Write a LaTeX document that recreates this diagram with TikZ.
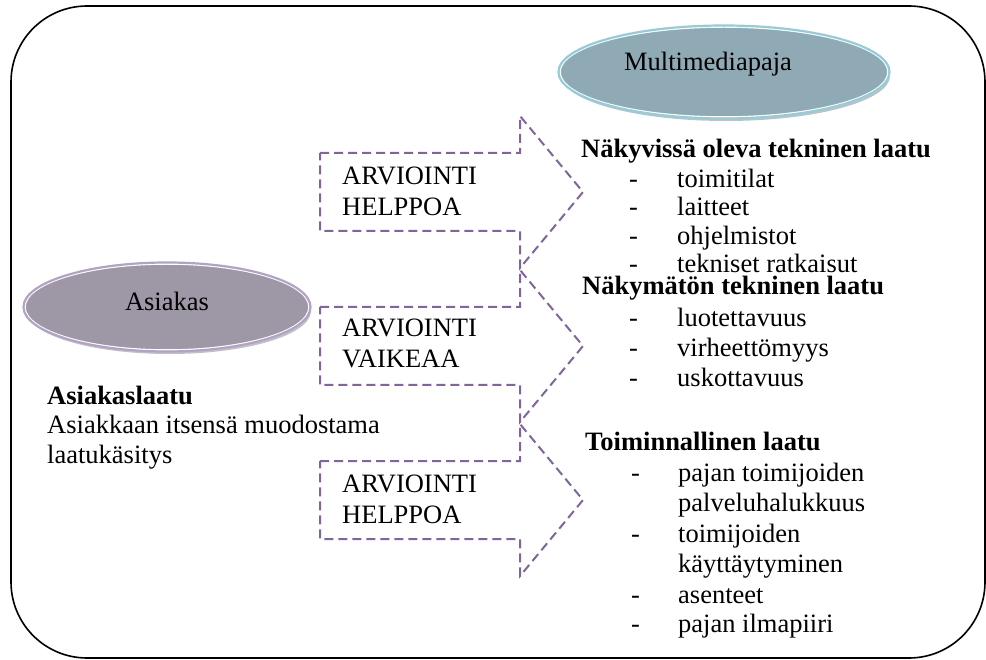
\documentclass[tikz,border=0pt]{standalone}
\usepackage{fontspec}
\setmainfont{Liberation Serif}
\usetikzlibrary{shapes.geometric}
\definecolor{frameblack}{HTML}{000000}
\definecolor{arrowpurple}{HTML}{8064A2}
\definecolor{mmfill}{HTML}{8FAAB4}
\definecolor{mmline}{HTML}{92CDDC}
\definecolor{asfill}{HTML}{9E97A6}
\definecolor{asline}{HTML}{B3A2C7}
\definecolor{shadowgray}{HTML}{A6A6A6}
\tikzset{
  frame/.style={draw=frameblack, line width=1.6pt, rounded corners=76pt},
  dasharrow/.style={draw=arrowpurple, line width=2pt, dash pattern=on 9pt off 5pt, line join=miter},
  txt/.style={anchor=base west, inner sep=0pt, font=\fontsize{26.5}{30}\selectfont},
  btxt/.style={txt, font=\fontsize{26.5}{30}\selectfont\bfseries},
  ctxt/.style={anchor=base, inner sep=0pt, font=\fontsize{26.5}{30}\selectfont},
  ell/.style={ellipse, inner sep=0pt},
}
\begin{document}
\begin{tikzpicture}[x=1pt,y=-1pt]
\useasboundingbox (0,0) rectangle (986,660);
% outer frame
\draw[frame] (11,6) rectangle (985,658);

% Multimediapaja ellipse
\fill[shadowgray!70] (726,76) ellipse [x radius=164, y radius=45];
\node[ell, minimum width=328pt, minimum height=90pt, fill=mmfill, draw=white, line width=1.5pt] (mm) at (724,72) {};
\draw[mmline, line width=2.2pt] (724,72) ellipse [x radius=165.5, y radius=46.5];
\node[ctxt] (mmtext) at (708,71) {Multimediapaja};

% Asiakas ellipse
\fill[shadowgray!70] (169,311) ellipse [x radius=142, y radius=43];
\node[ell, minimum width=284pt, minimum height=86pt, fill=asfill, draw=white, line width=1.5pt] (as) at (167,307) {};
\draw[asline, line width=2.2pt] (167,307) ellipse [x radius=143.5, y radius=44.5];
\node[ctxt] (astext) at (167,311) {Asiakas};

% dashed arrows
\foreach \c in {192, 346, 500}{
  \draw[dasharrow] (320,\c-39) -- (520,\c-39) -- (520,\c-76) -- (583,\c) -- (520,\c+76) -- (520,\c+39) -- (320,\c+39) -- cycle;
}
\node[txt] (a1l1) at (342,185) {ARVIOINTI};
\node[txt] (a1l2) at (342,216) {HELPPOA};
\node[txt] (a2l1) at (342,337) {ARVIOINTI};
\node[txt] (a2l2) at (342,368) {VAIKEAA};
\node[txt] (a3l1) at (342,492) {ARVIOINTI};
\node[txt] (a3l2) at (342,523) {HELPPOA};

% left text
\node[btxt] (aql) at (47,405) {Asiakaslaatu};
\node[txt] (aq1) at (47,434) {Asiakkaan itsensä muodostama};
\node[txt] (aq2) at (47,464) {laatukäsitys};

% group 1
\node[btxt] (g1) at (581,158) {Näkyvissä oleva tekninen laatu};
\foreach \y/\t/\n in {188/toimitilat/a, 216/laitteet/b, 245/ohjelmistot/c, 273/tekniset ratkaisut/d}{
  \node[txt] (g1d\n) at (629,\y) {-};
  \node[txt] (g1t\n) at (677,\y) {\t};
}
% group 2
\node[btxt] (g2) at (582,295) {Näkymätön tekninen laatu};
\foreach \y/\t/\n in {327/luotettavuus/a, 357/virheettömyys/b, 387/uskottavuus/c}{
  \node[txt] (g2d\n) at (629,\y) {-};
  \node[txt] (g2t\n) at (677,\y) {\t};
}
% group 3
\node[btxt] (g3) at (585,450) {Toiminnallinen laatu};
\foreach \y/\t/\n in {481/pajan toimijoiden/a, 542/toimijoiden/b, 603/asenteet/c, 632/pajan ilmapiiri/d}{
  \node[txt] (g3d\n) at (631,\y) {-};
  \node[txt] (g3t\n) at (678,\y) {\t};
}
\node[txt] (g3ta2) at (678,511) {palveluhalukkuus};
\node[txt] (g3tb2) at (678,572) {käyttäytyminen};
\end{tikzpicture}
\end{document}
